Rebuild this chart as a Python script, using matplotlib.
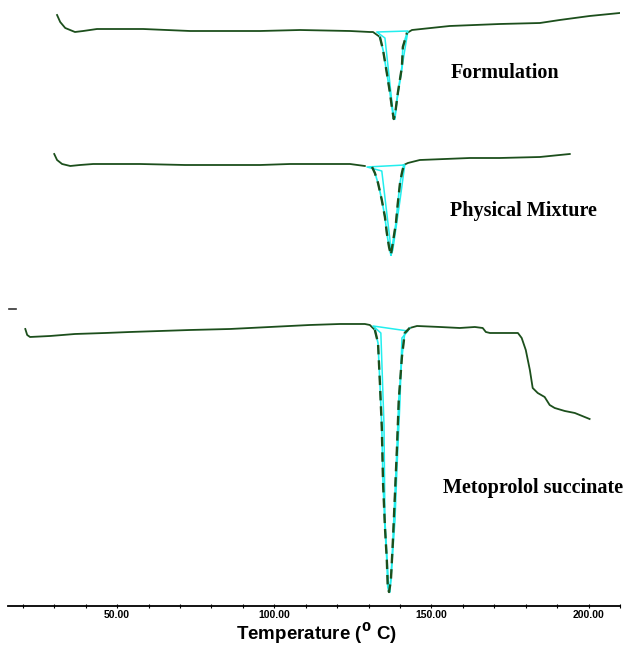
import numpy as np
import matplotlib
matplotlib.use("Agg")
from matplotlib import pyplot as plt
from matplotlib.lines import Line2D

# DSC thermograms, temperature in deg C, heat flow in arbitrary units (offset per trace)
form_T = [30.9, 31.9, 33.5, 36.6, 39.2, 43.6, 58.3, 73.2, 95.5, 108.2, 124.1, 130.4, 131.4,
          133.6, 134.6, 135.8, 136.8, 137.4, 138.0, 138.4, 139.3, 140.6, 140.9, 142.2, 143.8,
          155.8, 171.7, 184.5, 190.8, 200.3, 209.9]
form_H = [59.1, 58.4, 57.8, 57.4, 57.5, 57.7, 57.7, 57.5, 57.5, 57.6, 57.5, 57.4, 57.4,
          56.9, 55.6, 53.3, 51.3, 49.9, 48.7, 49.1, 51.3, 53.9, 55.9, 57.3, 57.6,
          58.0, 58.2, 58.3, 58.6, 59.0, 59.3]

phys_T = [30.0, 30.9, 32.5, 35.1, 38.2, 42.4, 57.3, 71.6, 95.5, 105.0, 124.1, 128.8, 131.1,
          132.0, 133.0, 134.2, 135.2, 135.8, 136.5, 137.1, 137.7, 138.7, 139.3, 140.0, 140.6,
          141.2, 142.5, 146.3, 154.3, 162.2, 171.7, 184.5, 190.8, 194.0]
phys_H = [45.2, 44.6, 44.2, 44.0, 44.1, 44.2, 44.2, 44.1, 44.1, 44.2, 44.2, 44.0, 43.9,
          43.3, 42.3, 40.6, 38.9, 37.3, 35.9, 35.1, 36.3, 38.3, 40.3, 42.3, 43.3,
          44.1, 44.3, 44.6, 44.7, 44.8, 44.8, 44.9, 45.1, 45.2]

meto_T = [20.8, 21.4, 22.3, 28.7, 36.6, 46.2, 54.1, 63.7, 73.2, 85.9, 98.6, 111.3, 120.9, 128.8,
          130.4, 132.0, 133.0, 133.6, 134.2, 134.6, 135.2, 135.8, 136.1, 136.5, 137.1, 137.7,
          138.4, 139.0, 139.6, 140.6, 141.5, 143.1, 145.4, 152.7, 159.0, 163.8, 166.3, 167.3,
          168.6, 177.5, 178.7, 180.0, 181.3, 182.2, 183.8, 186.0, 187.6, 189.2, 192.4, 195.6, 200.3]
meto_H = [27.7, 27.1, 26.9, 27.0, 27.2, 27.3, 27.4, 27.5, 27.6, 27.7, 27.9, 28.1, 28.2, 28.2,
          28.1, 27.6, 26.3, 22.3, 17.9, 12.3, 7.9, 4.6, 1.9, 1.4, 2.6, 6.3,
          11.3, 15.6, 20.6, 24.9, 27.3, 27.8, 28.0, 27.9, 27.8, 27.9, 27.8, 27.4,
          27.3, 27.3, 26.8, 25.6, 23.6, 21.8, 21.3, 20.9, 20.1, 19.8, 19.5, 19.3, 18.7]

# peak integration (baseline + sides), cyan
form_int_T = [138.4, 139.0, 141.2, 142.5, 132.6, 135.2, 138.0]
form_int_H = [48.7, 50.5, 55.0, 57.5, 57.4, 56.8, 48.7]
phys_int_T = [137.1, 137.7, 140.0, 141.5, 129.5, 134.2, 136.8, 137.1]
phys_int_H = [35.1, 35.6, 40.6, 44.1, 43.9, 43.5, 36.6, 35.1]
meto_int_T = [136.8, 138.4, 139.0, 140.0, 140.6, 142.5, 131.4, 133.9, 134.9, 135.2, 135.8, 136.5]
meto_int_H = [1.4, 8.6, 13.6, 20.6, 26.8, 27.5, 28.0, 27.3, 18.1, 8.6, 5.1, 1.4]

labels = ["Formulation", "Physical Mixture", "Metoprolol succinate"]
label_pos = [(173.3, 53.3), (179.1, 39.5), (182.2, 11.8)]

green = "#1c4f1c"
cyan = "#22eeee"

fig = plt.figure(figsize=(6.31, 6.53), dpi=100)
ax = fig.add_axes([0.0127, 0.072, 0.970, 0.928])

traces = [(form_T, form_H, form_int_T, form_int_H),
          (phys_T, phys_H, phys_int_T, phys_int_H),
          (meto_T, meto_H, meto_int_T, meto_int_H)]

for T, H, iT, iH in traces:
    T = np.array(T)
    H = np.array(H)
    lo, hi = min(iT) + 0.8, max(iT) - 0.3
    # solid outside the peak
    left = T <= lo + 0.5
    right = T >= hi - 0.5
    ax.plot(T[left], H[left], color=green, lw=1.3, solid_joinstyle="round")
    ax.plot(T[right], H[right], color=green, lw=1.3, solid_joinstyle="round")
    # peak: cyan under a dashed dark line
    ax.plot(iT, iH, color=cyan, lw=1.1)
    seg = (T >= lo - 1.0) & (T <= hi + 1.0)
    ax.plot(T[seg], H[seg], color=cyan, lw=1.2)
    ax.plot(T[seg], H[seg], color=green, lw=1.7, dashes=(4, 2.5))

for text, (x, y) in zip(labels, label_pos):
    ax.text(x, y, text, ha="center", va="center", fontsize=14.5, fontweight="bold",
            family=["Liberation Serif", "DejaVu Serif"])

ax.set_xlim(15.3, 210)
ax.set_ylim(0, 60.6)
for s in ["left", "right", "top"]:
    ax.spines[s].set_visible(False)
ax.spines["bottom"].set_linewidth(1.3)
ax.set_yticks([])
ax.set_xticks([50, 100, 150, 200])
ax.set_xticks(np.arange(20, 211, 10), minor=True)
ax.set_xticklabels(["50.00", "100.00", "150.00", "200.00"], fontsize=7.5, fontweight="bold",
                   family=["Liberation Sans", "DejaVu Sans"])
ax.tick_params(axis="x", which="both", direction="inout", length=3, width=0.8, pad=1.5)

fig.text(316 / 631, 1 - 633 / 653, r"Temperature ($^{\mathbf{0}}$ C)", ha="center", va="center",
         fontsize=13.5, fontweight="bold", family=["Liberation Sans", "DejaVu Sans"])

# stray mark at the left margin
fig.add_artist(Line2D([9 / 631, 16 / 631], [1 - 309 / 653] * 2, color="#333333", lw=1.2))

fig.savefig("out.png", dpi=100)
